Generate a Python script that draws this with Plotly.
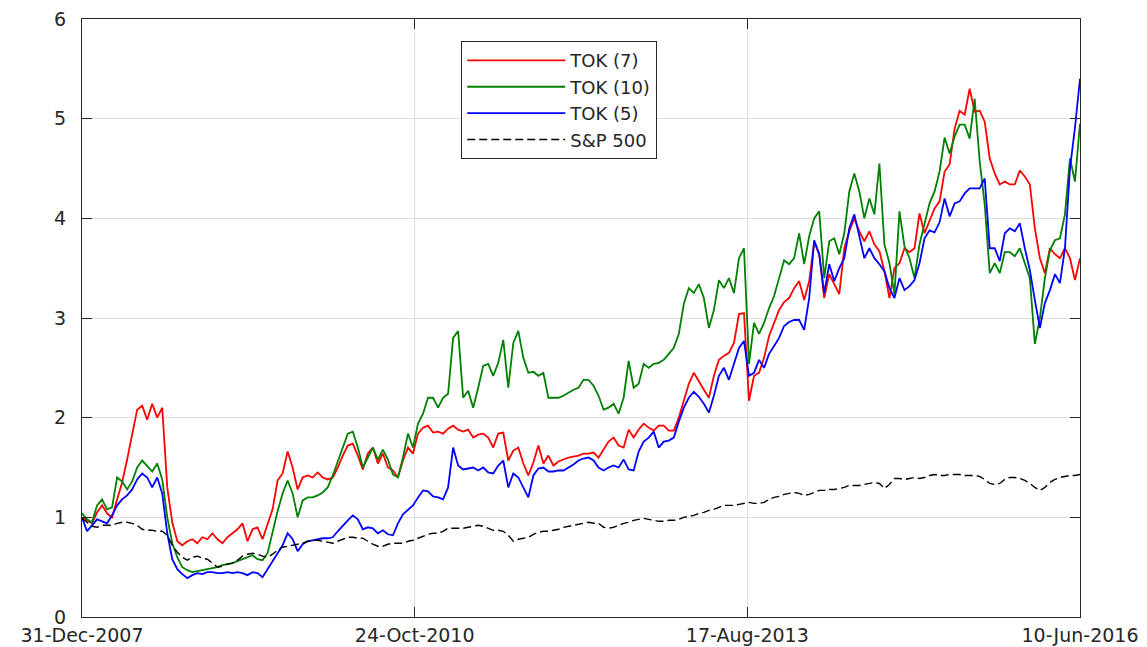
import pandas as pd
import plotly.graph_objects as go

start_date = "2007-12-31"
end_date = "2016-06-10"
n_obs = 200

tick_dates = ["2007-12-31", "2010-10-24", "2013-08-17", "2016-06-10"]
tick_labels = ["31-Dec-2007", "24-Oct-2010", "17-Aug-2013", "10-Jun-2016"]
y_ticks = [0, 1, 2, 3, 4, 5, 6]

tok7 = [
    1.00, 0.97, 0.94, 1.05, 1.12, 1.04, 1.00, 1.18, 1.35, 1.58,
    1.85, 2.08, 2.12, 1.98, 2.14, 2.00, 2.10, 1.30, 0.95, 0.76,
    0.72, 0.76, 0.78, 0.74, 0.80, 0.78, 0.84, 0.78, 0.74, 0.80,
    0.84, 0.88, 0.94, 0.76, 0.88, 0.90, 0.78, 0.92, 1.08, 1.37,
    1.44, 1.66, 1.50, 1.28, 1.40, 1.42, 1.40, 1.45, 1.40, 1.38,
    1.40, 1.50, 1.62, 1.72, 1.74, 1.62, 1.48, 1.64, 1.70, 1.54,
    1.64, 1.50, 1.47, 1.40, 1.57, 1.70, 1.64, 1.84, 1.90, 1.92,
    1.85, 1.86, 1.84, 1.89, 1.92, 1.88, 1.86, 1.88, 1.80, 1.83,
    1.84, 1.80, 1.70, 1.84, 1.85, 1.57, 1.67, 1.70, 1.54, 1.42,
    1.55, 1.72, 1.54, 1.62, 1.52, 1.56, 1.58, 1.60, 1.61, 1.62,
    1.64, 1.64, 1.65, 1.60, 1.68, 1.76, 1.80, 1.72, 1.70, 1.88,
    1.80, 1.88, 1.94, 1.90, 1.87, 1.92, 1.92, 1.87, 1.87, 2.00,
    2.17, 2.34, 2.45, 2.36, 2.28, 2.20, 2.42, 2.58, 2.62, 2.65,
    2.75, 3.04, 3.05, 2.17, 2.42, 2.45, 2.60, 2.82, 2.96, 3.08,
    3.16, 3.20, 3.30, 3.37, 3.18, 3.37, 3.76, 3.64, 3.20, 3.44,
    3.34, 3.24, 3.70, 3.87, 4.00, 3.87, 3.77, 3.87, 3.74, 3.67,
    3.47, 3.20, 3.50, 3.55, 3.70, 3.66, 3.70, 4.05, 3.85, 3.97,
    4.10, 4.17, 4.47, 4.54, 4.90, 5.08, 5.04, 5.30, 5.07, 5.08,
    4.97, 4.60, 4.45, 4.34, 4.37, 4.34, 4.34, 4.48, 4.42, 4.34,
    3.90, 3.60, 3.45, 3.70, 3.64, 3.60, 3.70, 3.60, 3.38, 3.60,
]

tok10 = [
    1.04, 0.98, 0.95, 1.12, 1.18, 1.08, 1.10, 1.40, 1.36, 1.28,
    1.36, 1.50, 1.57, 1.52, 1.46, 1.54, 1.38, 1.00, 0.74, 0.60,
    0.50, 0.47, 0.45, 0.46, 0.47, 0.48, 0.49, 0.50, 0.52, 0.53,
    0.54, 0.56, 0.58, 0.60, 0.62, 0.58, 0.57, 0.64, 0.86, 1.06,
    1.24, 1.37, 1.24, 1.00, 1.17, 1.20, 1.20, 1.22, 1.25, 1.30,
    1.42, 1.56, 1.70, 1.84, 1.86, 1.70, 1.50, 1.60, 1.70, 1.58,
    1.68, 1.58, 1.43, 1.40, 1.60, 1.84, 1.70, 1.94, 2.04, 2.20,
    2.20, 2.10, 2.20, 2.24, 2.80, 2.87, 2.20, 2.27, 2.10, 2.30,
    2.52, 2.54, 2.42, 2.55, 2.78, 2.30, 2.75, 2.87, 2.60, 2.45,
    2.46, 2.42, 2.45, 2.20, 2.20, 2.20, 2.22, 2.25, 2.28, 2.30,
    2.38, 2.38, 2.32, 2.22, 2.08, 2.10, 2.14, 2.04, 2.20, 2.57,
    2.30, 2.34, 2.54, 2.50, 2.54, 2.55, 2.58, 2.64, 2.70, 2.84,
    3.14, 3.30, 3.25, 3.34, 3.20, 2.90, 3.08, 3.38, 3.30, 3.40,
    3.25, 3.60, 3.70, 2.54, 2.95, 2.84, 2.95, 3.10, 3.22, 3.40,
    3.58, 3.54, 3.60, 3.85, 3.54, 3.82, 4.00, 4.07, 3.40, 3.77,
    3.80, 3.64, 3.85, 4.27, 4.45, 4.27, 4.00, 4.20, 4.04, 4.55,
    3.74, 3.55, 3.24, 4.07, 3.72, 3.60, 3.40, 3.74, 3.95, 4.15,
    4.27, 4.47, 4.81, 4.65, 4.82, 4.94, 4.94, 4.80, 5.20, 4.57,
    4.14, 3.45, 3.55, 3.45, 3.66, 3.66, 3.62, 3.70, 3.55, 3.40,
    2.74, 3.00, 3.40, 3.68, 3.78, 3.80, 4.04, 4.60, 4.37, 4.95,
]

tok5 = [
    1.00, 0.86, 0.92, 0.98, 0.96, 0.94, 1.02, 1.12, 1.18, 1.22,
    1.28, 1.38, 1.44, 1.40, 1.30, 1.40, 1.24, 0.84, 0.58, 0.48,
    0.43, 0.39, 0.42, 0.44, 0.43, 0.45, 0.45, 0.44, 0.44, 0.45,
    0.44, 0.45, 0.44, 0.42, 0.45, 0.44, 0.40, 0.48, 0.55, 0.64,
    0.72, 0.84, 0.78, 0.66, 0.73, 0.76, 0.77, 0.78, 0.79, 0.79,
    0.80, 0.86, 0.92, 0.97, 1.02, 0.98, 0.88, 0.90, 0.89, 0.84,
    0.87, 0.83, 0.82, 0.94, 1.03, 1.08, 1.12, 1.20, 1.27, 1.26,
    1.21, 1.20, 1.18, 1.30, 1.70, 1.52, 1.48, 1.49, 1.50, 1.47,
    1.50, 1.45, 1.44, 1.52, 1.57, 1.30, 1.44, 1.40, 1.30, 1.20,
    1.42, 1.49, 1.50, 1.46, 1.46, 1.47, 1.47, 1.50, 1.53, 1.57,
    1.59, 1.60, 1.57, 1.50, 1.47, 1.50, 1.52, 1.50, 1.58, 1.48,
    1.47, 1.66, 1.76, 1.80, 1.86, 1.70, 1.76, 1.77, 1.80, 1.96,
    2.10, 2.20, 2.26, 2.21, 2.14, 2.05, 2.22, 2.42, 2.50, 2.38,
    2.54, 2.70, 2.77, 2.42, 2.45, 2.58, 2.50, 2.64, 2.72, 2.80,
    2.92, 2.96, 2.98, 2.98, 2.88, 3.20, 3.78, 3.64, 3.25, 3.54,
    3.37, 3.50, 3.60, 3.90, 4.04, 3.82, 3.60, 3.70, 3.60, 3.54,
    3.47, 3.30, 3.20, 3.40, 3.28, 3.32, 3.38, 3.55, 3.80, 3.88,
    3.86, 3.96, 4.20, 4.02, 4.15, 4.17, 4.25, 4.30, 4.30, 4.30,
    4.40, 3.70, 3.70, 3.57, 3.85, 3.90, 3.87, 3.95, 3.70, 3.48,
    3.18, 2.90, 3.15, 3.28, 3.44, 3.35, 3.70, 4.50, 4.91, 5.40,
]

sp500 = [
    0.99, 0.95, 0.91, 0.90, 0.92, 0.92, 0.92, 0.94, 0.95, 0.95,
    0.94, 0.92, 0.88, 0.87, 0.87, 0.86, 0.86, 0.82, 0.72, 0.65,
    0.60, 0.57, 0.60, 0.61, 0.59, 0.58, 0.54, 0.50, 0.51, 0.53,
    0.54, 0.57, 0.61, 0.63, 0.64, 0.63, 0.61, 0.60, 0.63, 0.67,
    0.70, 0.71, 0.72, 0.73, 0.74, 0.76, 0.77, 0.77, 0.76, 0.75,
    0.74, 0.76, 0.78, 0.80, 0.80, 0.79, 0.79, 0.76, 0.73, 0.71,
    0.71, 0.73, 0.74, 0.74, 0.74, 0.76, 0.77, 0.79, 0.81, 0.83,
    0.84, 0.84, 0.86, 0.89, 0.89, 0.89, 0.89, 0.90, 0.91, 0.92,
    0.91, 0.89, 0.87, 0.87, 0.86, 0.82, 0.76, 0.78, 0.79, 0.80,
    0.83, 0.85, 0.86, 0.86, 0.87, 0.88, 0.90, 0.91, 0.92, 0.93,
    0.94, 0.95, 0.94, 0.94, 0.90, 0.89, 0.90, 0.92, 0.94, 0.95,
    0.97, 0.98, 0.99, 0.98, 0.97, 0.96, 0.96, 0.97, 0.97, 0.98,
    1.00, 1.01, 1.02, 1.04, 1.05, 1.07, 1.08, 1.10, 1.12, 1.12,
    1.12, 1.13, 1.14, 1.15, 1.14, 1.14, 1.15, 1.18, 1.20, 1.21,
    1.23, 1.24, 1.25, 1.24, 1.22, 1.23, 1.25, 1.27, 1.27, 1.28,
    1.28, 1.29, 1.30, 1.32, 1.32, 1.32, 1.33, 1.34, 1.35, 1.34,
    1.29, 1.33, 1.39, 1.39, 1.38, 1.39, 1.40, 1.39, 1.40, 1.42,
    1.43, 1.42, 1.42, 1.43, 1.43, 1.43, 1.42, 1.42, 1.42, 1.41,
    1.38, 1.34, 1.33, 1.34, 1.38, 1.40, 1.40, 1.39, 1.37, 1.34,
    1.30, 1.27, 1.30, 1.35, 1.38, 1.40, 1.41, 1.42, 1.42, 1.43,
]

dates = pd.date_range(start_date, end_date, periods=n_obs)

series = [
    ("TOK (7)", tok7, "#ff0000", "solid", 1.8),
    ("TOK (10)", tok10, "#008000", "solid", 1.8),
    ("TOK (5)", tok5, "#0000ff", "solid", 1.8),
    ("S&P 500", sp500, "#000000", "8px,4px", 1.4),
]

fig = go.Figure()
for name, vals, color, dash, width in series:
    fig.add_trace(go.Scatter(
        x=dates, y=vals, mode="lines", name=name,
        line=dict(color=color, width=width, dash=dash),
    ))

axis_color = "#262626"
font_family = "DejaVu Sans, Liberation Sans, Arial, sans-serif"
fig.update_layout(
    width=1139, height=639, autosize=False,
    margin=dict(l=74, r=67, t=11, b=30, autoexpand=False),
    paper_bgcolor="white", plot_bgcolor="white",
    font=dict(family=font_family, size=19, color=axis_color),
    showlegend=True,
    legend=dict(
        x=0.38, y=0.963, xanchor="left", yanchor="top",
        bordercolor="#262626", borderwidth=1, bgcolor="white",
        font=dict(family=font_family, size=18, color="#262626"),
        itemwidth=98, tracegroupgap=0,
    ),
)
fig.update_xaxes(
    type="date", range=[start_date, end_date],
    tickvals=tick_dates, ticktext=tick_labels,
    showgrid=True, gridcolor="#dedede", gridwidth=1,
    showline=True, linecolor=axis_color, linewidth=1.3, mirror="ticks",
    ticks="inside", ticklen=10, tickcolor=axis_color,
    zeroline=False, tickfont=dict(size=19), automargin=False,
    ticklabelstandoff=1, ticklabeloverflow="allow",
)
fig.update_yaxes(
    range=[0, 6], tickvals=y_ticks,
    showgrid=True, gridcolor="#dedede", gridwidth=1,
    showline=True, linecolor=axis_color, linewidth=1.3, mirror="ticks",
    ticks="inside", ticklen=10, tickcolor=axis_color,
    zeroline=False, tickfont=dict(size=19), automargin=False,
    ticklabelstandoff=11, ticklabeloverflow="allow",
)

fig.write_html("out.html")
